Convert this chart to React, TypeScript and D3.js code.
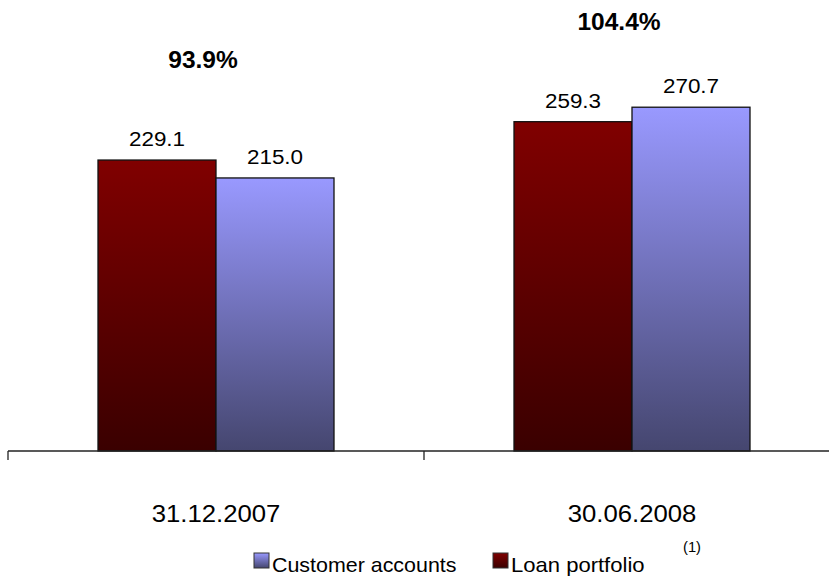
import React from "react";
import * as d3 from "d3";

const categories = ["31.12.2007", "30.06.2008"];
const seriesNames = ["Loan portfolio", "Customer accounts"];
const loanPortfolio = [229.1, 259.3];
const customerAccounts = [215.0, 270.7];
const ratioLabels = ["93.9%", "104.4%"];

const W = 829;
const H = 578;

export default function App() {
  const x = d3.scaleBand<string>().domain(categories).range([8, 840]).padding(0);
  const inner = d3.scaleBand<string>().domain(seriesNames).range([-118, 118]).padding(0);
  const y = d3.scaleLinear().domain([0, 300]).range([451, 70]);
  const values: Record<string, number[]> = {
    "Loan portfolio": loanPortfolio,
    "Customer accounts": customerAccounts,
  };
  const fills: Record<string, string> = {
    "Loan portfolio": "url(#gLoan)",
    "Customer accounts": "url(#gCust)",
  };
  const font = "Arial, 'Liberation Sans', sans-serif";
  const txt = (tx: number, ty: number, s: string, size: number, sx: number, opts: any = {}) => (
    <text
      transform={`translate(${tx},${ty}) scale(${sx},1)`}
      fontSize={size}
      fontFamily={font}
      textAnchor={opts.anchor || "middle"}
      fontWeight={opts.bold ? "bold" : "normal"}
      fill="#000"
    >
      {s}
    </text>
  );
  return (
    <svg width={W} height={H} style={{ position: "absolute", left: 0, top: 0 }}>
      <defs>
        <linearGradient id="gLoan" x1="0" y1="0" x2="0" y2="1">
          <stop offset="0" stopColor="#800000" />
          <stop offset="1" stopColor="#3a0000" />
        </linearGradient>
        <linearGradient id="gCust" x1="0" y1="0" x2="0" y2="1">
          <stop offset="0" stopColor="#9999ff" />
          <stop offset="1" stopColor="#45466f" />
        </linearGradient>
      </defs>
      <rect width={W} height={H} fill="#fff" />
      {categories.map((c, i) => {
        const cx = (x(c) as number) + x.bandwidth() / 2;
        return (
          <g key={c}>
            {seriesNames.map((s) => {
              const v = values[s][i];
              const bx = cx + (inner(s) as number);
              return (
                <g key={s}>
                  <rect
                    x={bx}
                    y={y(v)}
                    width={inner.bandwidth()}
                    height={y(0) - y(v)}
                    fill={fills[s]}
                    stroke="#111"
                    strokeWidth={1.3}
                  />
                  {txt(bx + inner.bandwidth() / 2, y(v) - 14, v.toFixed(1), 19.5, 1.15)}
                </g>
              );
            })}
            {txt(cx - 13, y(loanPortfolio[i]) - 92, ratioLabels[i], 24.5, 1.0, { bold: true })}
            {txt(cx, 522, c, 24.5, 1.05)}
          </g>
        );
      })}
      <line x1={8} x2={W} y1={y(0)} y2={y(0)} stroke="#222" strokeWidth={1.3} />
      {categories.map((c) => (
        <line key={c} x1={x(c) as number} x2={x(c) as number} y1={y(0)} y2={y(0) + 9} stroke="#222" strokeWidth={1.3} />
      ))}
      <rect x={254} y={553} width={15} height={15} fill="url(#gCust)" stroke="#333" strokeWidth={1} />
      {txt(272, 572, "Customer accounts", 21, 1.02, { anchor: "start" })}
      <rect x={493} y={553} width={15} height={15} fill="url(#gLoan)" stroke="#333" strokeWidth={1} />
      {txt(511, 572, "Loan portfolio", 21, 1.05, { anchor: "start" })}
      {txt(683, 552, "(1)", 14, 1.05, { anchor: "start" })}
    </svg>
  );
}
